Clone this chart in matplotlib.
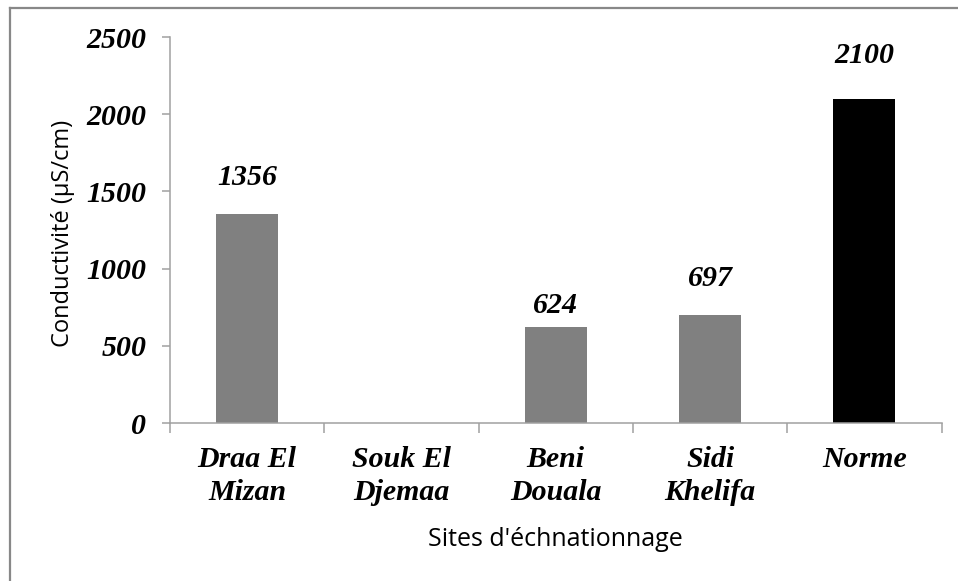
import matplotlib
matplotlib.use("Agg")
import matplotlib.pyplot as plt
from matplotlib.lines import Line2D

categories = ["Draa El\nMizan", "Souk El\nDjemaa", "Beni\nDouala", "Sidi\nKhelifa", "Norme"]
values = [1356, None, 624, 697, 2100]
bar_colors = ["#808080", "#808080", "#808080", "#808080", "#000000"]
label_gap_px = [23, 0, 8, 23, 30]
yticks = [0, 500, 1000, 1500, 2000, 2500]

serif = ["Liberation Serif", "DejaVu Serif"]
sans = ["Open Sans", "DejaVu Sans"]
FS = 21.5

fig = plt.figure(figsize=(9.58, 5.81), dpi=100)
ax = fig.add_axes([170/958, 1-423/581, (941.5-170)/958, (423-37)/581])

x = list(range(len(categories)))
for i, v in enumerate(values):
    if v is None:
        continue
    ax.bar(i, v, width=0.4, color=bar_colors[i], zorder=2)
    ax.annotate(str(v), (i, v), xytext=(0, label_gap_px[i]*0.72), textcoords="offset points",
                ha="center", va="bottom", fontsize=FS, fontweight="bold", fontstyle="italic",
                family=serif)

ax.set_xlim(-0.5, len(categories)-0.5)
ax.set_ylim(0, 2500)
ax.set_yticks(yticks)
ax.set_yticklabels([str(t) for t in yticks], fontsize=FS, fontweight="bold", fontstyle="italic", family=serif)
ax.set_xticks([i - 0.5 for i in range(len(categories)+1)], minor=False)
ax.set_xticklabels([""]*(len(categories)+1))
ax.set_xticks(x, minor=True)
ax.set_xticklabels(categories, minor=True, fontsize=FS, fontweight="bold", fontstyle="italic",
                   family=serif, linespacing=1.3)
ax.tick_params(axis="x", which="minor", length=0, pad=16.5)
ax.tick_params(axis="x", which="major", length=7, width=1.1, color="#A0A0A0")
ax.tick_params(axis="y", length=6, width=1.1, color="#A0A0A0", pad=11)

for s in ["top", "right"]:
    ax.spines[s].set_visible(False)
for s in ["left", "bottom"]:
    ax.spines[s].set_color("#A0A0A0")
    ax.spines[s].set_linewidth(1.1)

ax.set_ylabel("Conductivité (µS/cm)", fontsize=17, family=sans)
ax.set_xlabel("Sites d'échnationnage", fontsize=18, family=sans)
ax.yaxis.set_label_coords((75-170)/(941.5-170), 0.49)
ax.xaxis.set_label_coords((555-170)/(941.5-170), -(527-423)/(423-37))

fx = 9.5/958
fy = 1 - 7.5/581
fig.add_artist(Line2D([fx, 1.01], [fy, fy], transform=fig.transFigure, color="#888888", lw=1.6))
fig.add_artist(Line2D([fx, fx], [-0.01, fy], transform=fig.transFigure, color="#888888", lw=1.6))

fig.savefig("out.png", dpi=100)
